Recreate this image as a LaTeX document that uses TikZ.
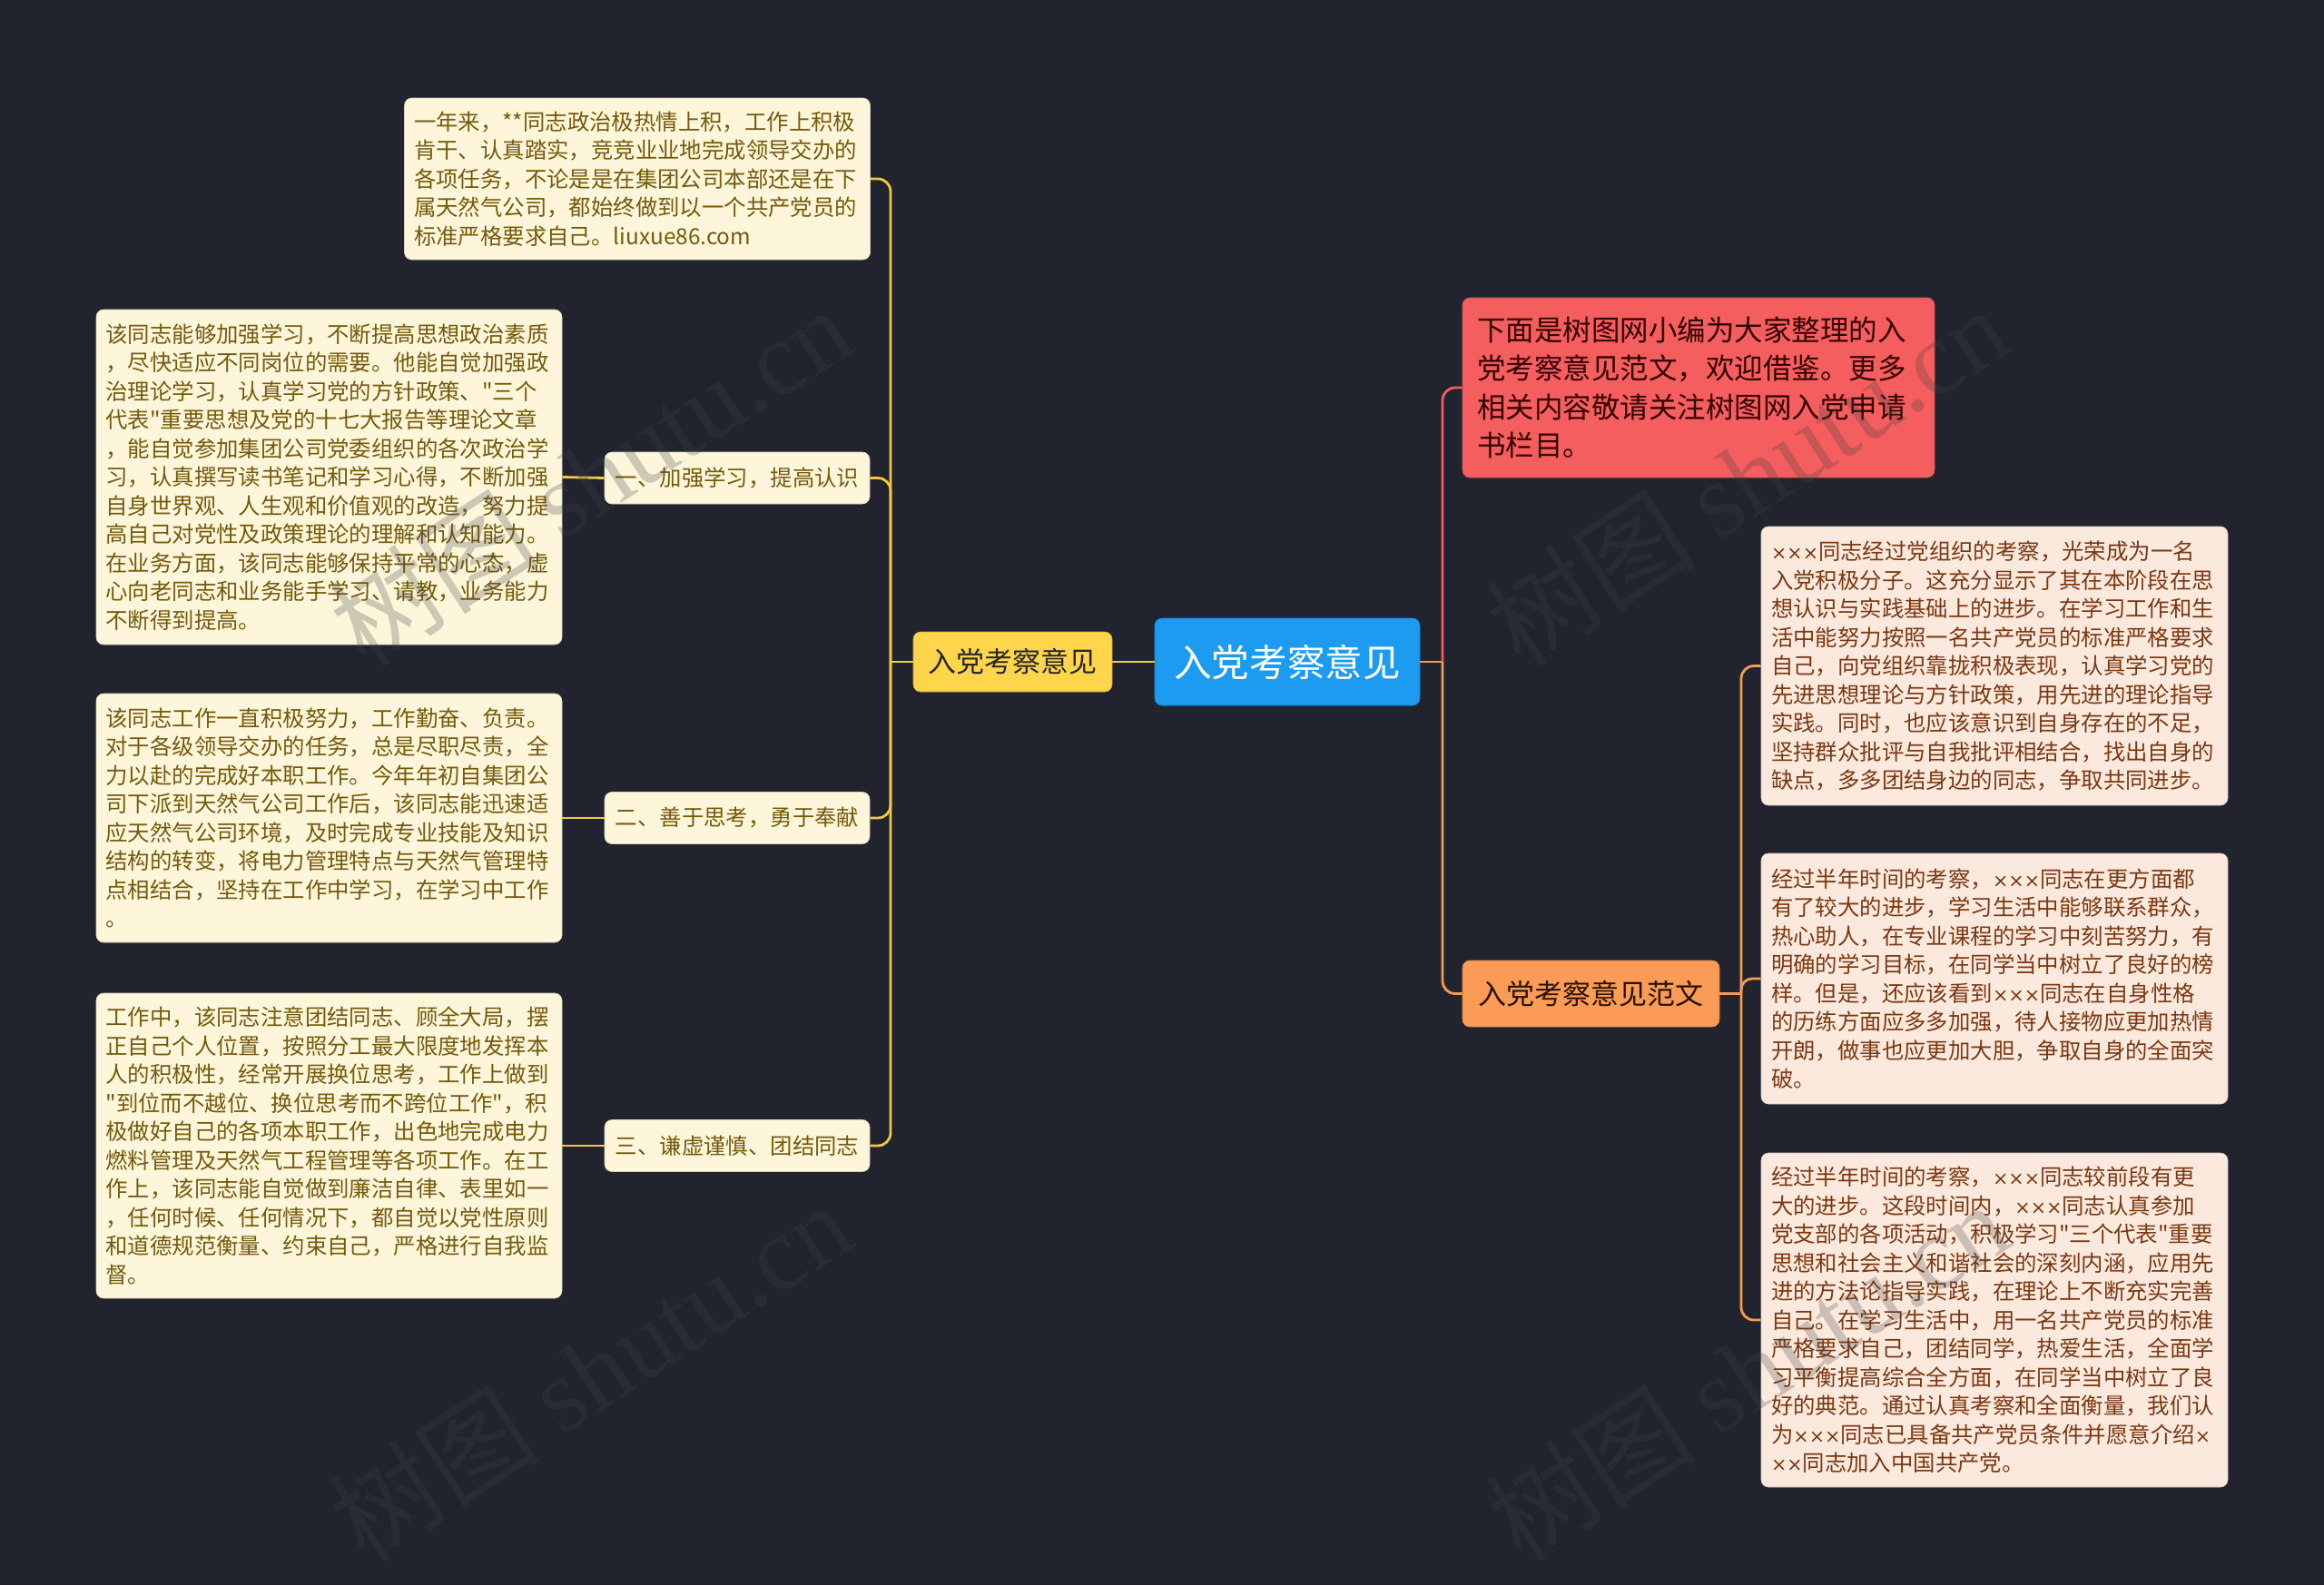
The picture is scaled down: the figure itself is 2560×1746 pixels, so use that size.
\documentclass[tikz,border=0pt]{standalone}
\usepackage{fontspec}
\newfontfamily\cjk{Noto Sans CJK SC}
\newfontfamily\wmserif{Liberation Serif}
\newfontfamily\xfont{DejaVu Sans}[Scale=0.85]
\newcommand\xxx{{\xfont ×××}}
\newcommand\xone{{\xfont ×}}
\newcommand\xtwo{{\xfont ××}}
\definecolor{bg}{HTML}{21242F}
\definecolor{leafL}{HTML}{FDF6DA}
\definecolor{leafLtext}{HTML}{745A0C}
\definecolor{leafR}{HTML}{FCE9DD}
\definecolor{leafRtext}{HTML}{7A3812}
\definecolor{ymain}{HTML}{FFD54C}
\definecolor{bluemain}{HTML}{1D9BF0}
\definecolor{redmain}{HTML}{F45E5E}
\definecolor{orgmain}{HTML}{FB9B55}
\definecolor{ylinecol}{HTML}{F2C744}
\definecolor{olinecol}{HTML}{F79A55}
\definecolor{rlinecol}{HTML}{F25E5C}
\definecolor{wmcol}{HTML}{404040}
\tikzset{
  leafLbox/.style={fill=leafL, draw=leafL!85!black, line width=0.3pt, rounded corners=4pt, text=leafLtext,
    font=\cjk\fontsize{12.2pt}{15.75pt}\selectfont, align=left, text width=246pt, inner xsep=5.25pt, inner ysep=0pt},
  leafRbox/.style={fill=leafR, draw=leafR!85!black, line width=0.3pt, rounded corners=4pt, text=leafRtext,
    font=\cjk\fontsize{12.2pt}{15.75pt}\selectfont, align=left, text width=246pt, inner xsep=5.5pt, inner ysep=0pt},
  sublab/.style={fill=leafL, draw=leafL!85!black, line width=0.3pt, rounded corners=4pt, text=leafLtext,
    font=\cjk\fontsize{12.2pt}{15pt}\selectfont, minimum width=146pt, minimum height=28.5pt, inner sep=0pt},
  ylink/.style={draw=ylinecol, line width=1.4pt},
  olink/.style={draw=olinecol, line width=1.4pt},
  rlink/.style={draw=rlinecol, line width=1.4pt},
  wmark/.style={rotate=33, text=wmcol, opacity=0.25, font=\cjk\fontsize{58pt}{58pt}\selectfont}
}
\begin{document}
\begin{tikzpicture}[x=0.5pt,y=-0.5pt]
\fill[bg] (0,0) rectangle (2560,1746);
\useasboundingbox (0,0) rectangle (2560,1746);

% main nodes
\node[fill=bluemain, draw=bluemain!85!black, line width=0.3pt, rounded corners=4pt, text=white,
  font=\cjk\fontsize{20.8pt}{24pt}\selectfont, minimum width=146pt, minimum height=48pt, inner sep=0pt]
  (root) at (1418,729) {入党考察意见};
\node[fill=ymain, draw=ymain!80!black, line width=0.3pt, rounded corners=4pt, text=black!85,
  font=\cjk\fontsize{15.5pt}{18pt}\selectfont, minimum width=109.5pt, minimum height=33pt, inner sep=0pt]
  (ym) at (1115.5,729) {入党考察意见};
\node[fill=redmain, draw=redmain!85!black, line width=0.3pt, rounded corners=4pt, text=black!80!red,
  font=\cjk\fontsize{15.75pt}{21.2pt}\selectfont, align=left, text width=244pt, inner xsep=8pt, inner ysep=0pt,
  minimum height=99pt]
  (red) at (1871,427) {下面是树图网小编为大家整理的入\\党考察意见范文，欢迎借鉴。更多\\相关内容敬请关注树图网入党申请\\书栏目。};
\node[fill=orgmain, draw=orgmain!85!black, line width=0.3pt, rounded corners=4pt, text=black!85!orange,
  font=\cjk\fontsize{15.5pt}{18pt}\selectfont, minimum width=141.5pt, minimum height=36.5pt, inner sep=0pt]
  (orn) at (1752.5,1094.5) {入党考察意见范文};

% left leaves
\node[leafLbox, minimum height=89pt] (t0) at (702,197) {一年来，**同志政治极热情上积，工作上积极\\肯干、认真踏实，竞竞业业地完成领导交办的\\各项任务，不论是是在集团公司本部还是在下\\属天然气公司，都始终做到以一个共产党员的\\标准严格要求自己。liuxue86.com};
\node[leafLbox, minimum height=184.5pt] (l1) at (362.5,525.5) {该同志能够加强学习，不断提高思想政治素质\\，尽快适应不同岗位的需要。他能自觉加强政\\治理论学习，认真学习党的方针政策、"三个\\代表"重要思想及党的十七大报告等理论文章\\，能自觉参加集团公司党委组织的各次政治学\\习，认真撰写读书笔记和学习心得，不断加强\\自身世界观、人生观和价值观的改造，努力提\\高自己对党性及政策理论的理解和认知能力。\\在业务方面，该同志能够保持平常的心态，虚\\心向老同志和业务能手学习、请教，业务能力\\不断得到提高。};
\node[leafLbox, minimum height=137pt] (l2) at (362.5,901) {该同志工作一直积极努力，工作勤奋、负责。\\对于各级领导交办的任务，总是尽职尽责，全\\力以赴的完成好本职工作。今年年初自集团公\\司下派到天然气公司工作后，该同志能迅速适\\应天然气公司环境，及时完成专业技能及知识\\结构的转变，将电力管理特点与天然气管理特\\点相结合，坚持在工作中学习，在学习中工作\\。};
\node[leafLbox, minimum height=168pt] (l3) at (362.5,1262) {工作中，该同志注意团结同志、顾全大局，摆\\正自己个人位置，按照分工最大限度地发挥本\\人的积极性，经常开展换位思考，工作上做到\\"到位而不越位、换位思考而不跨位工作"，积\\极做好自己的各项本职工作，出色地完成电力\\燃料管理及天然气工程管理等各项工作。在工\\作上，该同志能自觉做到廉洁自律、表里如一\\，任何时候、任何情况下，都自觉以党性原则\\和道德规范衡量、约束自己，严格进行自我监\\督。};

\node[sublab] (s1) at (812,526.5) {一、加强学习，提高认识};
\node[sublab] (s2) at (812,901) {二、善于思考，勇于奉献};
\node[sublab] (s3) at (812,1262) {三、谦虚谨慎、团结同志};

% right leaves
\node[leafRbox, minimum height=153.5pt] (r1) at (2197,733.5) {\xxx 同志经过党组织的考察，光荣成为一名\\入党积极分子。这充分显示了其在本阶段在思\\想认识与实践基础上的进步。在学习工作和生\\活中能努力按照一名共产党员的标准严格要求\\自己，向党组织靠拢积极表现，认真学习党的\\先进思想理论与方针政策，用先进的理论指导\\实践。同时，也应该意识到自身存在的不足，\\坚持群众批评与自我批评相结合，找出自身的\\缺点，多多团结身边的同志，争取共同进步。};
\node[leafRbox, minimum height=138pt] (r2) at (2197,1078) {经过半年时间的考察，\xxx 同志在更方面都\\有了较大的进步，学习生活中能够联系群众，\\热心助人，在专业课程的学习中刻苦努力，有\\明确的学习目标，在同学当中树立了良好的榜\\样。但是，还应该看到\xxx 同志在自身性格\\的历练方面应多多加强，待人接物应更加热情\\开朗，做事也应更加大胆，争取自身的全面突\\破。};
\node[leafRbox, minimum height=184pt] (r3) at (2197,1454) {经过半年时间的考察，\xxx 同志较前段有更\\大的进步。这段时间内，\xxx 同志认真参加\\党支部的各项活动，积极学习"三个代表"重要\\思想和社会主义和谐社会的深刻内涵，应用先\\进的方法论指导实践，在理论上不断充实完善\\自己。在学习生活中，用一名共产党员的标准\\严格要求自己，团结同学，热爱生活，全面学\\习平衡提高综合全方面，在同学当中树立了良\\好的典范。通过认真考察和全面衡量，我们认\\为\xxx 同志已具备共产党员条件并愿意介绍\xone\\\xtwo 同志加入中国共产党。};

% connectors left
\coordinate (jl) at (981,729);
\draw[ylink] (root.west) -- (ym.east);
\draw[ylink] (ym.west) -- (jl);
\draw[ylink, rounded corners=7pt] (jl) |- (t0.east);
\draw[ylink, rounded corners=7pt] (jl) |- (s1.east);
\draw[ylink, rounded corners=7pt] (jl) |- (s2.east);
\draw[ylink, rounded corners=7pt] (jl) |- (s3.east);
\draw[ylink] (l1.east) -- (s1.west);
\draw[ylink] (l2.east) -- (s2.west);
\draw[ylink] (l3.east) -- (s3.west);

% connectors right
\coordinate (jr) at (1589,729);
\draw[olink] (root.east) -- (jr);
\draw[rlink, rounded corners=7pt] (jr) |- (red.west);
\draw[olink, rounded corners=7pt] (jr) |- (orn.west);
\coordinate (jo) at (1918,1094.5);
\draw[olink] (orn.east) -- (jo);
\draw[olink, rounded corners=7pt] (jo) |- (r1.west);
\draw[olink, rounded corners=6pt] (jo) |- (r2.west);
\draw[olink, rounded corners=7pt] (jo) |- (r3.west);

% watermarks
\node[wmark] (w1) at (650,524) {树图 {\wmserif shutu.cn}};
\node[wmark] (w2) at (1924,524) {树图 {\wmserif shutu.cn}};
\node[wmark] (w3) at (650,1510) {树图 {\wmserif shutu.cn}};
\node[wmark] (w4) at (1924,1510) {树图 {\wmserif shutu.cn}};
\end{tikzpicture}
\end{document}
